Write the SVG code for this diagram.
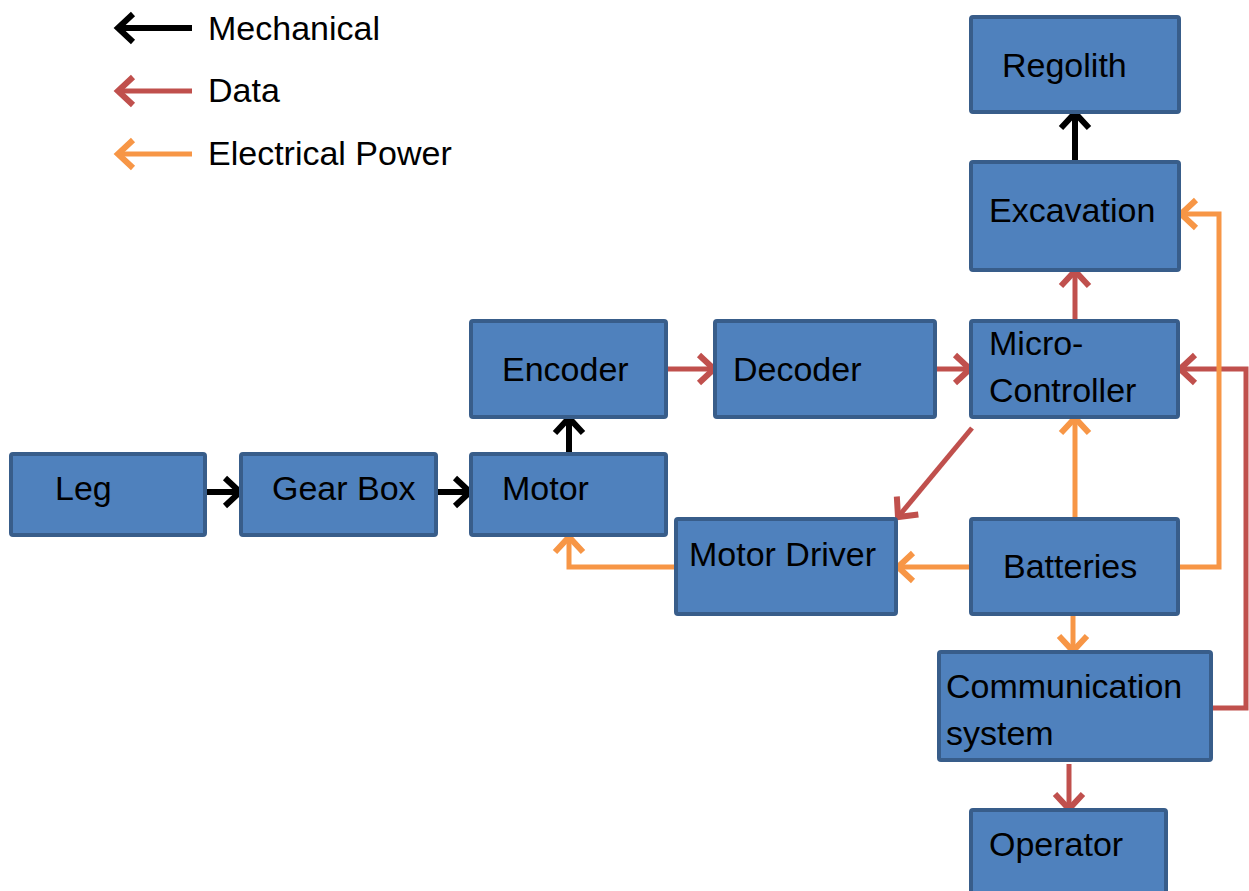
<svg xmlns="http://www.w3.org/2000/svg" width="1249" height="891" viewBox="0 0 1249 891">
<style>
.box{fill:#4F81BD;stroke:#385D8A;stroke-width:4}
.t{font-family:"Liberation Sans",Arial,sans-serif;font-size:34px;fill:#000}
.mech{stroke:#000;stroke-width:6;fill:none}
.data{stroke:#C0504D;stroke-width:5;fill:none}
.pow{stroke:#F79646;stroke-width:5;fill:none}
</style>
<defs>
<marker id="ak" markerUnits="userSpaceOnUse" markerWidth="36" markerHeight="36" refX="18" refY="17" orient="auto"><path d="M3,3 L18,17 L3,31" fill="none" stroke="#000" stroke-width="6"/></marker>
<marker id="ar" markerUnits="userSpaceOnUse" markerWidth="36" markerHeight="36" refX="18" refY="17" orient="auto"><path d="M3,3 L18,17 L3,31" fill="none" stroke="#C0504D" stroke-width="6"/></marker>
<marker id="ao" markerUnits="userSpaceOnUse" markerWidth="36" markerHeight="36" refX="18" refY="17" orient="auto"><path d="M3,3 L18,17 L3,31" fill="none" stroke="#F79646" stroke-width="6"/></marker>
</defs>
<g id="legend">
<line class="mech" x1="192" y1="28" x2="118" y2="28" marker-end="url(#ak)"/>
<text class="t" x="208" y="40">Mechanical</text>
<line class="data" x1="192" y1="91" x2="118" y2="91" marker-end="url(#ar)"/>
<text class="t" x="208" y="102">Data</text>
<line class="pow" x1="192" y1="154" x2="118" y2="154" marker-end="url(#ao)"/>
<text class="t" x="208" y="165">Electrical Power</text>
</g>
<g id="connectors">
<line class="mech" x1="205" y1="492" x2="240" y2="492" marker-end="url(#ak)"/>
<line class="mech" x1="436" y1="492" x2="470" y2="492" marker-end="url(#ak)"/>
<line class="mech" x1="569" y1="454" x2="569" y2="418" marker-end="url(#ak)"/>
<line class="mech" x1="1075" y1="162" x2="1075" y2="113" marker-end="url(#ak)"/>
<line class="data" x1="666" y1="369" x2="714" y2="369" marker-end="url(#ar)"/>
<line class="data" x1="935" y1="369" x2="970" y2="369" marker-end="url(#ar)"/>
<line class="data" x1="1075" y1="321" x2="1075" y2="271" marker-end="url(#ar)"/>
<line class="data" x1="972" y1="428" x2="898" y2="517" marker-end="url(#ar)"/>
<polyline class="data" points="1211,708 1246,708 1246,369 1180,369" marker-end="url(#ar)"/>
<line class="data" x1="1069" y1="764" x2="1069" y2="809" marker-end="url(#ar)"/>
<line class="pow" x1="1075" y1="518" x2="1075" y2="418" marker-end="url(#ao)"/>
<line class="pow" x1="971" y1="567" x2="898" y2="567" marker-end="url(#ao)"/>
<polyline class="pow" points="676,567 569,567 569,537" marker-end="url(#ao)"/>
<polyline class="pow" points="1178,567 1219,567 1219,214 1181,214" marker-end="url(#ao)"/>
<line class="pow" x1="1073" y1="615" x2="1073" y2="651" marker-end="url(#ao)"/>
</g>
<g id="regolith"><rect class="box" x="971" y="17" width="208" height="95" rx="2"/><text class="t" x="1002" y="77">Regolith</text></g>
<g id="excavation"><rect class="box" x="971" y="162" width="208" height="108" rx="2"/><text class="t" x="989" y="222">Excavation</text></g>
<g id="encoder"><rect class="box" x="471" y="321" width="195" height="96" rx="2"/><text class="t" x="502" y="381">Encoder</text></g>
<g id="decoder"><rect class="box" x="715" y="321" width="220" height="96" rx="2"/><text class="t" x="733" y="381">Decoder</text></g>
<g id="microcontroller"><rect class="box" x="971" y="321" width="207" height="96" rx="2"/><text class="t" x="989" y="355">Micro-</text><text class="t" x="989" y="402">Controller</text></g>
<g id="leg"><rect class="box" x="11" y="454" width="194" height="81" rx="2"/><text class="t" x="55" y="500">Leg</text></g>
<g id="gearbox"><rect class="box" x="241" y="454" width="195" height="81" rx="2"/><text class="t" x="272" y="500">Gear Box</text></g>
<g id="motor"><rect class="box" x="471" y="454" width="195" height="81" rx="2"/><text class="t" x="502" y="500">Motor</text></g>
<g id="motordriver"><rect class="box" x="676" y="519" width="220" height="95" rx="2"/><text class="t" x="689" y="566">Motor Driver</text></g>
<g id="batteries"><rect class="box" x="971" y="519" width="207" height="95" rx="2"/><text class="t" x="1003" y="578">Batteries</text></g>
<g id="communication"><rect class="box" x="939" y="652" width="272" height="108" rx="2"/><text class="t" x="946" y="698">Communication</text><text class="t" x="946" y="745">system</text></g>
<g id="operator"><rect class="box" x="971" y="810" width="195" height="85" rx="2"/><text class="t" x="989" y="856">Operator</text></g>
</svg>
